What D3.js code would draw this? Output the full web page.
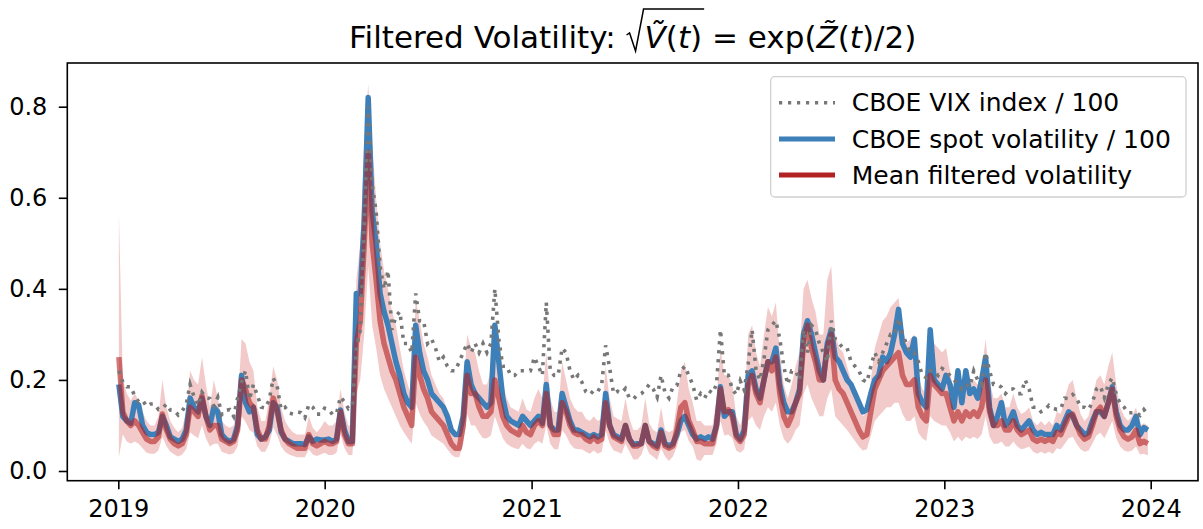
<!DOCTYPE html>
<html>
<head>
<meta charset="utf-8">
<script src="https://cdn.jsdelivr.net/npm/d3@7"></script>
<style>
  html, body { margin: 0; padding: 0; background: #fff; }
  svg { display: block; }
  text { font-family: "DejaVu Sans", sans-serif; fill: #000; }
</style>
</head>
<body>
<svg id="chart" width="1203" height="529"></svg>
<script>
// Weekly observations (Wednesdays), starting 2 Jan 2019.
const firstObservation = "2019-01-02";
const yearTicks = ["2019", "2020", "2021", "2022", "2023", "2024"];
const valueTicks = [0.0, 0.2, 0.4, 0.6, 0.8];

// CBOE VIX index / 100
const vixIndex = [
  // 2019
  0.22, 0.195, 0.185, 0.185, 0.165, 0.152, 0.155, 0.142, 0.147, 0.147, 0.135, 0.137, 0.147,
  0.134, 0.133, 0.123, 0.132, 0.146, 0.19, 0.163, 0.144, 0.173, 0.161, 0.159, 0.143, 0.162,
  0.124, 0.133, 0.135, 0.12, 0.16, 0.195, 0.22, 0.157, 0.19, 0.166, 0.14, 0.138, 0.156,
  0.204, 0.186, 0.135, 0.14, 0.127, 0.125, 0.13, 0.128, 0.117, 0.146, 0.14, 0.125, 0.125,
  // 2020
  0.138, 0.135, 0.124, 0.126, 0.163, 0.152, 0.137, 0.144, 0.27, 0.31, 0.54, 0.80, 0.63,
  0.57, 0.45, 0.40, 0.44, 0.31, 0.34, 0.35, 0.28, 0.28, 0.26, 0.39, 0.33, 0.33,
  0.28, 0.29, 0.27, 0.24, 0.25, 0.23, 0.22, 0.22, 0.24, 0.26, 0.28, 0.26, 0.28, 0.26,
  0.28, 0.26, 0.28, 0.40, 0.29, 0.23, 0.23, 0.21, 0.21, 0.22, 0.22, 0.22, 0.22,
  // 2021
  0.25, 0.23, 0.21, 0.37, 0.22, 0.21, 0.21, 0.27, 0.26, 0.22, 0.20, 0.21, 0.195,
  0.174, 0.168, 0.177, 0.174, 0.19, 0.276, 0.226, 0.17, 0.175, 0.171, 0.181, 0.16, 0.158,
  0.167, 0.17, 0.178, 0.19, 0.18, 0.162, 0.21, 0.172, 0.16, 0.185, 0.188, 0.22, 0.23,
  0.21, 0.19, 0.155, 0.17, 0.16, 0.177, 0.171, 0.19, 0.31, 0.21, 0.21, 0.18, 0.168,
  // 2022
  0.198, 0.178, 0.235, 0.31, 0.22, 0.20, 0.245, 0.31, 0.32, 0.33, 0.29, 0.23, 0.19,
  0.22, 0.22, 0.20, 0.31, 0.26, 0.32, 0.31, 0.28, 0.26, 0.24, 0.33, 0.29, 0.28,
  0.27, 0.27, 0.24, 0.23, 0.22, 0.20, 0.195, 0.23, 0.26, 0.24, 0.26, 0.28, 0.30,
  0.30, 0.335, 0.30, 0.28, 0.26, 0.26, 0.24, 0.21, 0.205, 0.22, 0.22, 0.21, 0.225,
  // 2023
  0.22, 0.21, 0.20, 0.19, 0.18, 0.19, 0.185, 0.22, 0.20, 0.19, 0.26, 0.22, 0.19,
  0.19, 0.184, 0.17, 0.18, 0.18, 0.17, 0.17, 0.20, 0.18, 0.14, 0.14, 0.13, 0.135,
  0.144, 0.138, 0.135, 0.137, 0.16, 0.159, 0.168, 0.16, 0.14, 0.14, 0.135, 0.151, 0.18,
  0.186, 0.161, 0.19, 0.205, 0.168, 0.148, 0.14, 0.128, 0.128, 0.129, 0.122, 0.135, 0.124
];

// CBOE spot volatility / 100
const spotVol = [
  // 2019
  0.19, 0.12, 0.11, 0.105, 0.15, 0.145, 0.10, 0.085, 0.08, 0.08, 0.085, 0.12, 0.10,
  0.075, 0.07, 0.065, 0.07, 0.09, 0.16, 0.14, 0.13, 0.16, 0.12, 0.10, 0.14, 0.13,
  0.08, 0.07, 0.065, 0.07, 0.10, 0.21, 0.15, 0.13, 0.14, 0.08, 0.07, 0.075, 0.09,
  0.15, 0.14, 0.085, 0.07, 0.065, 0.06, 0.06, 0.06, 0.058, 0.075, 0.065, 0.07, 0.068,
  // 2020
  0.068, 0.07, 0.065, 0.07, 0.134, 0.09, 0.065, 0.065, 0.39, 0.39, 0.55, 0.82, 0.57,
  0.50, 0.39, 0.35, 0.32, 0.28, 0.24, 0.21, 0.17, 0.15, 0.14, 0.32, 0.26, 0.22,
  0.20, 0.17, 0.16, 0.15, 0.14, 0.12, 0.09, 0.08, 0.08, 0.12, 0.24, 0.19, 0.17, 0.16,
  0.15, 0.14, 0.15, 0.32, 0.24, 0.16, 0.12, 0.11, 0.105, 0.10, 0.12, 0.11, 0.10,
  // 2021
  0.11, 0.12, 0.105, 0.19, 0.10, 0.09, 0.09, 0.17, 0.14, 0.11, 0.09, 0.09, 0.085,
  0.08, 0.075, 0.08, 0.075, 0.08, 0.17, 0.10, 0.08, 0.075, 0.07, 0.10, 0.07, 0.058,
  0.06, 0.06, 0.10, 0.065, 0.06, 0.055, 0.09, 0.06, 0.055, 0.06, 0.08, 0.11, 0.12,
  0.10, 0.08, 0.07, 0.075, 0.07, 0.075, 0.07, 0.10, 0.185, 0.12, 0.13, 0.13, 0.08,
  // 2022
  0.07, 0.09, 0.21, 0.22, 0.18, 0.16, 0.20, 0.24, 0.24, 0.27, 0.19, 0.15, 0.13,
  0.13, 0.15, 0.18, 0.30, 0.33, 0.30, 0.26, 0.22, 0.20, 0.28, 0.31, 0.25, 0.24,
  0.22, 0.20, 0.19, 0.17, 0.15, 0.13, 0.135, 0.17, 0.20, 0.21, 0.25, 0.24, 0.26,
  0.30, 0.355, 0.28, 0.26, 0.25, 0.29, 0.17, 0.15, 0.14, 0.31, 0.20, 0.19, 0.18,
  // 2023
  0.21, 0.19, 0.14, 0.22, 0.15, 0.22, 0.17, 0.18, 0.16, 0.20, 0.25, 0.14, 0.10,
  0.12, 0.15, 0.10, 0.11, 0.13, 0.10, 0.09, 0.10, 0.11, 0.09, 0.08, 0.085, 0.08,
  0.08, 0.08, 0.10, 0.09, 0.11, 0.13, 0.12, 0.10, 0.09, 0.08, 0.085, 0.11, 0.13,
  0.13, 0.12, 0.15, 0.185, 0.13, 0.10, 0.09, 0.09, 0.10, 0.12, 0.08, 0.095, 0.09
];

// Mean filtered volatility
const meanFiltered = [
  // 2019
  0.25, 0.13, 0.11, 0.10, 0.11, 0.10, 0.085, 0.07, 0.065, 0.065, 0.075, 0.125, 0.09,
  0.07, 0.06, 0.055, 0.06, 0.08, 0.14, 0.13, 0.12, 0.165, 0.12, 0.09, 0.10, 0.10,
  0.07, 0.065, 0.06, 0.065, 0.09, 0.20, 0.18, 0.15, 0.14, 0.09, 0.07, 0.07, 0.10,
  0.16, 0.13, 0.09, 0.07, 0.06, 0.055, 0.05, 0.05, 0.05, 0.08, 0.06, 0.055, 0.06,
  // 2020
  0.065, 0.06, 0.06, 0.065, 0.13, 0.08, 0.06, 0.06, 0.28, 0.33, 0.50, 0.70, 0.50,
  0.42, 0.33, 0.28, 0.25, 0.22, 0.20, 0.17, 0.14, 0.12, 0.10, 0.25, 0.21, 0.18,
  0.16, 0.13, 0.12, 0.11, 0.10, 0.08, 0.06, 0.05, 0.05, 0.10, 0.21, 0.17, 0.17, 0.14,
  0.12, 0.12, 0.13, 0.20, 0.16, 0.12, 0.10, 0.09, 0.085, 0.08, 0.10, 0.085, 0.08,
  // 2021
  0.10, 0.11, 0.10, 0.17, 0.10, 0.08, 0.08, 0.15, 0.13, 0.10, 0.085, 0.08, 0.08,
  0.07, 0.065, 0.075, 0.065, 0.07, 0.15, 0.10, 0.075, 0.07, 0.065, 0.10, 0.07, 0.055,
  0.055, 0.06, 0.10, 0.065, 0.055, 0.05, 0.085, 0.055, 0.05, 0.055, 0.09, 0.14, 0.15,
  0.11, 0.09, 0.065, 0.065, 0.06, 0.06, 0.06, 0.10, 0.18, 0.13, 0.135, 0.12, 0.075,
  // 2022
  0.065, 0.08, 0.19, 0.21, 0.17, 0.15, 0.20, 0.24, 0.22, 0.25, 0.17, 0.12, 0.10,
  0.12, 0.15, 0.17, 0.28, 0.32, 0.27, 0.24, 0.20, 0.20, 0.27, 0.30, 0.20, 0.18,
  0.17, 0.15, 0.13, 0.11, 0.09, 0.075, 0.08, 0.13, 0.18, 0.20, 0.22, 0.23, 0.24,
  0.25, 0.26, 0.21, 0.19, 0.19, 0.20, 0.14, 0.12, 0.11, 0.21, 0.19, 0.18, 0.17,
  // 2023
  0.17, 0.14, 0.11, 0.13, 0.11, 0.13, 0.12, 0.13, 0.12, 0.14, 0.20, 0.13, 0.10,
  0.10, 0.11, 0.09, 0.09, 0.11, 0.09, 0.08, 0.085, 0.09, 0.07, 0.065, 0.07, 0.065,
  0.07, 0.065, 0.085, 0.08, 0.10, 0.12, 0.125, 0.10, 0.08, 0.07, 0.075, 0.10, 0.13,
  0.14, 0.12, 0.15, 0.18, 0.12, 0.09, 0.075, 0.07, 0.075, 0.09, 0.06, 0.065, 0.06
];

// Lower edge of the filtered volatility band
const bandLow = [
  // 2019
  0.03, 0.08, 0.065, 0.06, 0.065, 0.06, 0.05, 0.04, 0.038, 0.038, 0.045, 0.075, 0.055,
  0.042, 0.036, 0.032, 0.036, 0.048, 0.085, 0.078, 0.072, 0.10, 0.072, 0.054, 0.06, 0.06,
  0.042, 0.039, 0.036, 0.039, 0.054, 0.12, 0.108, 0.09, 0.084, 0.054, 0.042, 0.042, 0.06,
  0.096, 0.078, 0.054, 0.042, 0.036, 0.033, 0.03, 0.03, 0.03, 0.048, 0.036, 0.033, 0.036,
  // 2020
  0.04, 0.035, 0.035, 0.04, 0.08, 0.05, 0.035, 0.035, 0.17, 0.20, 0.30, 0.45, 0.32,
  0.27, 0.21, 0.18, 0.16, 0.14, 0.12, 0.10, 0.085, 0.072, 0.06, 0.15, 0.125, 0.108,
  0.096, 0.078, 0.072, 0.066, 0.06, 0.048, 0.036, 0.03, 0.03, 0.06, 0.125, 0.10, 0.10, 0.084,
  0.072, 0.072, 0.078, 0.12, 0.096, 0.072, 0.06, 0.054, 0.05, 0.048, 0.06, 0.05, 0.048,
  // 2021
  0.06, 0.066, 0.06, 0.10, 0.06, 0.048, 0.048, 0.09, 0.078, 0.06, 0.05, 0.048, 0.048,
  0.042, 0.038, 0.045, 0.038, 0.042, 0.09, 0.06, 0.045, 0.042, 0.038, 0.06, 0.042, 0.025,
  0.025, 0.035, 0.06, 0.038, 0.032, 0.024, 0.05, 0.032, 0.022, 0.032, 0.054, 0.085, 0.09,
  0.066, 0.054, 0.025, 0.022, 0.035, 0.035, 0.035, 0.06, 0.11, 0.078, 0.08, 0.072, 0.045,
  // 2022
  0.04, 0.048, 0.11, 0.12, 0.10, 0.09, 0.12, 0.14, 0.13, 0.15, 0.10, 0.07, 0.06,
  0.07, 0.09, 0.10, 0.17, 0.19, 0.16, 0.14, 0.12, 0.12, 0.16, 0.18, 0.12, 0.11,
  0.10, 0.09, 0.078, 0.066, 0.054, 0.045, 0.048, 0.078, 0.11, 0.12, 0.13, 0.14, 0.14,
  0.15, 0.15, 0.125, 0.11, 0.11, 0.12, 0.084, 0.072, 0.066, 0.12, 0.11, 0.105, 0.10,
  // 2023
  0.10, 0.085, 0.065, 0.075, 0.065, 0.075, 0.07, 0.075, 0.07, 0.08, 0.12, 0.075, 0.06,
  0.06, 0.065, 0.054, 0.054, 0.065, 0.054, 0.048, 0.05, 0.054, 0.042, 0.038, 0.042, 0.038,
  0.042, 0.038, 0.05, 0.048, 0.06, 0.072, 0.075, 0.06, 0.048, 0.042, 0.045, 0.06, 0.078,
  0.084, 0.072, 0.09, 0.11, 0.072, 0.054, 0.045, 0.042, 0.045, 0.054, 0.036, 0.038, 0.034
];

// Upper edge of the filtered volatility band
const bandHigh = [
  // 2019
  0.57, 0.20, 0.17, 0.155, 0.17, 0.155, 0.13, 0.11, 0.10, 0.10, 0.12, 0.20, 0.14,
  0.11, 0.095, 0.085, 0.095, 0.13, 0.22, 0.20, 0.19, 0.25, 0.19, 0.14, 0.20, 0.16,
  0.11, 0.10, 0.095, 0.10, 0.14, 0.29, 0.28, 0.24, 0.22, 0.14, 0.11, 0.11, 0.16,
  0.23, 0.20, 0.14, 0.11, 0.095, 0.085, 0.08, 0.08, 0.08, 0.12, 0.095, 0.085, 0.095,
  // 2020
  0.11, 0.10, 0.10, 0.11, 0.18, 0.13, 0.10, 0.10, 0.42, 0.50, 0.72, 0.85, 0.72,
  0.60, 0.50, 0.44, 0.40, 0.35, 0.32, 0.27, 0.22, 0.19, 0.16, 0.38, 0.33, 0.28,
  0.25, 0.21, 0.19, 0.17, 0.16, 0.13, 0.10, 0.08, 0.08, 0.16, 0.30, 0.27, 0.26, 0.22,
  0.19, 0.19, 0.22, 0.30, 0.25, 0.19, 0.16, 0.14, 0.135, 0.13, 0.16, 0.135, 0.13,
  // 2021
  0.16, 0.18, 0.16, 0.26, 0.16, 0.13, 0.13, 0.24, 0.20, 0.16, 0.14, 0.13, 0.13,
  0.115, 0.11, 0.12, 0.11, 0.115, 0.23, 0.16, 0.12, 0.115, 0.11, 0.16, 0.115, 0.09,
  0.09, 0.10, 0.16, 0.105, 0.09, 0.085, 0.14, 0.09, 0.085, 0.09, 0.15, 0.22, 0.24,
  0.18, 0.15, 0.11, 0.11, 0.10, 0.10, 0.10, 0.16, 0.27, 0.21, 0.21, 0.19, 0.12,
  // 2022
  0.10, 0.13, 0.30, 0.32, 0.26, 0.23, 0.30, 0.36, 0.34, 0.37, 0.26, 0.19, 0.16,
  0.19, 0.23, 0.26, 0.40, 0.42, 0.38, 0.35, 0.30, 0.30, 0.42, 0.45, 0.30, 0.27,
  0.26, 0.23, 0.20, 0.17, 0.14, 0.12, 0.13, 0.20, 0.27, 0.30, 0.33, 0.34, 0.36,
  0.37, 0.38, 0.31, 0.28, 0.29, 0.30, 0.21, 0.18, 0.17, 0.31, 0.28, 0.27, 0.26,
  // 2023
  0.27, 0.22, 0.17, 0.20, 0.17, 0.20, 0.19, 0.20, 0.19, 0.22, 0.29, 0.20, 0.16,
  0.16, 0.17, 0.14, 0.14, 0.17, 0.14, 0.125, 0.13, 0.14, 0.11, 0.10, 0.11, 0.10,
  0.11, 0.10, 0.13, 0.125, 0.16, 0.19, 0.20, 0.16, 0.125, 0.11, 0.12, 0.16, 0.20,
  0.21, 0.19, 0.23, 0.26, 0.19, 0.14, 0.12, 0.11, 0.12, 0.14, 0.10, 0.105, 0.10
];

const legendLabels = ["CBOE VIX index / 100", "CBOE spot volatility / 100", "Mean filtered volatility"];

// ---------------------------------------------------------------------------
const svg = d3.select("#chart");
const frame = { left: 67.3, right: 1198, top: 63, bottom: 480.7 };

const start = d3.timeParse("%Y-%m-%d")(firstObservation);
const dates = d3.range(meanFiltered.length).map(i => d3.timeDay.offset(start, 7 * i));
const tickDates = yearTicks.map(d3.timeParse("%Y"));

const x = d3.scaleTime()
  .domain([tickDates[0], tickDates[tickDates.length - 1]])
  .range([118.3, 1150.7]);
const y = d3.scaleLinear().domain([0, 0.8]).range([471, 106.7]);

const rows = dates.map((d, i) => ({
  date: d, vix: vixIndex[i], spot: spotVol[i], mean: meanFiltered[i],
  lo: bandLow[i], hi: bandHigh[i]
}));

svg.append("clipPath").attr("id", "plot-clip")
  .append("rect")
  .attr("x", frame.left).attr("y", frame.top)
  .attr("width", frame.right - frame.left).attr("height", frame.bottom - frame.top);

const plot = svg.append("g").attr("clip-path", "url(#plot-clip)");

// uncertainty band around the filtered volatility
plot.append("path")
  .datum(rows)
  .attr("d", d3.area().x(d => x(d.date)).y0(d => y(d.lo)).y1(d => y(d.hi)))
  .attr("fill", "#d23c3c")
  .attr("fill-opacity", 0.27);

// CBOE spot volatility
plot.append("path")
  .datum(rows)
  .attr("d", d3.line().x(d => x(d.date)).y(d => y(d.spot)))
  .attr("fill", "none")
  .attr("stroke", "#3d7fb8")
  .attr("stroke-width", 5.5)
  .attr("stroke-linejoin", "round");

// mean filtered volatility
plot.append("path")
  .datum(rows)
  .attr("d", d3.line().x(d => x(d.date)).y(d => y(d.mean)))
  .attr("fill", "none")
  .attr("stroke", "#b22222")
  .attr("stroke-opacity", 0.6)
  .attr("stroke-width", 5.5)
  .attr("stroke-linejoin", "round");

// VIX, dotted
plot.append("path")
  .datum(rows)
  .attr("d", d3.line().x(d => x(d.date)).y(d => y(d.vix)))
  .attr("fill", "none")
  .attr("stroke", "#777")
  .attr("stroke-width", 3.6)
  .attr("stroke-dasharray", "3.2 5.8");

// frame
svg.append("rect")
  .attr("x", frame.left).attr("y", frame.top)
  .attr("width", frame.right - frame.left).attr("height", frame.bottom - frame.top)
  .attr("fill", "none").attr("stroke", "#000").attr("stroke-width", 1.6);

// axes
const yAxis = svg.append("g")
  .attr("transform", `translate(${frame.left},0)`)
  .call(d3.axisLeft(y).tickValues(valueTicks).tickFormat(d3.format(".1f")).tickSize(8.5).tickPadding(11.5));
const xAxis = svg.append("g")
  .attr("transform", `translate(0,${frame.bottom})`)
  .call(d3.axisBottom(x).tickValues(tickDates).tickFormat(d3.timeFormat("%Y")).tickSize(8.5).tickPadding(10.5));
[yAxis, xAxis].forEach(g => {
  g.select(".domain").remove();
  g.selectAll(".tick line").attr("stroke", "#000").attr("stroke-width", 1.6);
  g.selectAll(".tick text").attr("font-size", 24).attr("font-family", "DejaVu Sans").attr("fill", "#000");
});

// legend
const legend = svg.append("g");
legend.append("rect")
  .attr("x", 770.7).attr("y", 76.7).attr("width", 415.3).attr("height", 120.3)
  .attr("rx", 4).attr("fill", "#fff").attr("fill-opacity", 0.8)
  .attr("stroke", "#d0d0d0").attr("stroke-width", 1.3);
const legendStyles = [
  { stroke: "#777", width: 3.6, dash: "3.2 5.8" },
  { stroke: "#3d7fb8", width: 5, dash: null },
  { stroke: "#b22222", width: 5, dash: null }
];
legendLabels.forEach((label, i) => {
  const cy = 102.7 + i * 36.2;
  legend.append("line")
    .attr("x1", 779).attr("x2", 835).attr("y1", cy).attr("y2", cy)
    .attr("stroke", legendStyles[i].stroke)
    .attr("stroke-width", legendStyles[i].width)
    .attr("stroke-dasharray", legendStyles[i].dash);
  legend.append("text")
    .attr("x", 851.7).attr("y", cy + 8.6)
    .attr("font-size", 25)
    .text(label);
});

// title with the square root and tildes
const title = svg.append("g");
const titleSize = 31;
const baseline = 48;
let cursor = 0;
function piece(str, italic) {
  const t = title.append("text")
    .attr("x", cursor).attr("y", baseline)
    .attr("font-size", titleSize)
    .attr("font-style", italic ? "italic" : "normal")
    .style("white-space", "pre")
    .text(str);
  cursor += t.node().getComputedTextLength();
}
piece("Filtered Volatility: ", false);
const radicalStart = cursor;
cursor += 19;
const radicandStart = cursor;
piece("V\u0303", true);
piece("(", false);
piece("t", true);
piece(")", false);
const radicandEnd = cursor + 2;
piece(" = exp(", false);
piece("Z\u0303", true);
piece("(", false);
piece("t", true);
piece(")/2)", false);
const topY = baseline - 39;
title.append("path")
  .attr("d", `M${radicalStart + 1},${baseline - 13} L${radicalStart + 4},${baseline - 15} L${radicalStart + 10},${baseline + 3} L${radicandStart - 1},${topY} L${radicandEnd},${topY}`)
  .attr("fill", "none").attr("stroke", "#000").attr("stroke-width", 1.5);
title.attr("transform", `translate(${(frame.left + frame.right) / 2 - cursor / 2},0)`);
</script>
</body>
</html>
